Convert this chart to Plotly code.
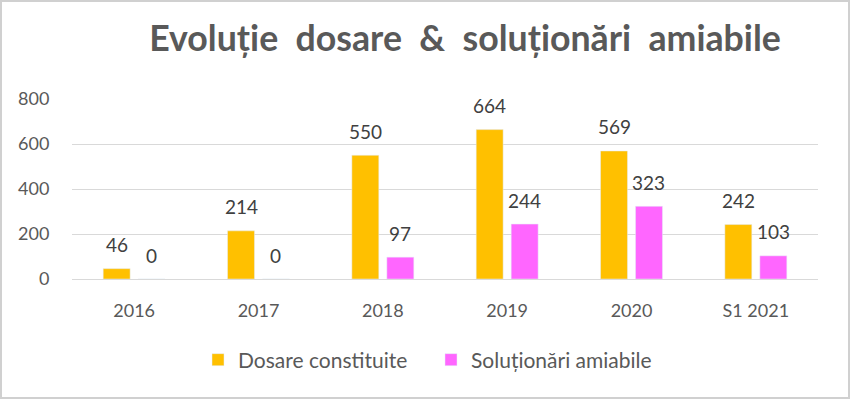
import plotly.graph_objects as go

categories = ["2016", "2017", "2018", "2019", "2020", "S1 2021"]
dosare = [46, 214, 550, 664, 569, 242]
solutionari = [0, 0, 97, 244, 323, 103]
series_names = ["Dosare constituite", "Soluționări amiabile"]
title_text = "Evoluție  dosare  &  soluționări  amiabile"
y_ticks = [0, 200, 400, 600, 800]

W, H = 850, 399
ML, MR, MT, MB = 72, 32, 99, 120
FONT = "Lato, Open Sans, sans-serif"
ORANGE = "#FFC000"
MAGENTA = "#FF66FF"

fig = go.Figure()
fig.add_trace(go.Bar(x=categories, y=dosare, name=series_names[0],
                     marker_color=ORANGE))
fig.add_trace(go.Bar(x=categories, y=solutionari, name=series_names[1],
                     marker_color=MAGENTA))

bargap = 0.437
plot_w = W - ML - MR
slot = plot_w / len(categories) * (1 - bargap) / 2
annotations = []
for vals, sgn in ((dosare, -1), (solutionari, 1)):
    for i, v in enumerate(vals):
        annotations.append(dict(x=i, y=v, xref="x", yref="y", text=str(v),
                                showarrow=False, xshift=sgn * slot / 2, yshift=24,
                                font=dict(family=FONT, size=19, color="#404040")))

plot_h = H - MT - MB
fig.add_shape(type="rect", xref="paper", yref="paper",
              x0=(1 - ML) / plot_w, x1=(W - 1 - ML) / plot_w,
              y0=-(H - 1 - MT - plot_h) / plot_h, y1=1 + (MT - 1) / plot_h,
              line=dict(color="#d0d0d0", width=2), layer="below")

fig.update_layout(
    width=W, height=H,
    margin=dict(l=ML, r=MR, t=MT, b=MB),
    paper_bgcolor="white", plot_bgcolor="white",
    barmode="group", bargap=bargap, bargroupgap=0.23,
    title=dict(text=title_text, x=465 / W, xanchor="center",
               y=1 - 39 / H, yanchor="middle", xref="container", yref="container",
               font=dict(family=FONT, size=35.7, color="#595959", weight="bold")),
    annotations=annotations,
    legend=dict(orientation="h", x=(431 - ML) / plot_w, xanchor="center",
                y=-(360 - (H - MB)) / plot_h, yanchor="middle",
                font=dict(family=FONT, size=21, color="#595959"),
                itemwidth=30, entrywidth=188, entrywidthmode="pixels",
                traceorder="normal"),
    xaxis=dict(type="category", range=[-0.5, len(categories) - 0.5],
               showgrid=False, ticks="outside", ticklen=15,
               tickcolor="rgba(0,0,0,0)",
               tickfont=dict(family=FONT, size=18, color="#595959"),
               showline=True, linecolor="#d9d9d9", linewidth=1),
    yaxis=dict(range=[0, 800], tickvals=y_ticks, showgrid=True,
               gridcolor="#d9d9d9", gridwidth=1, zeroline=False,
               ticks="outside", ticklen=18, tickcolor="rgba(0,0,0,0)",
               tickfont=dict(family=FONT, size=18, color="#595959")),
)

fig.write_html("out.html", config={"displayModeBar": False},
               post_script="document.body.style.margin='0';document.body.style.overflow='hidden';")
